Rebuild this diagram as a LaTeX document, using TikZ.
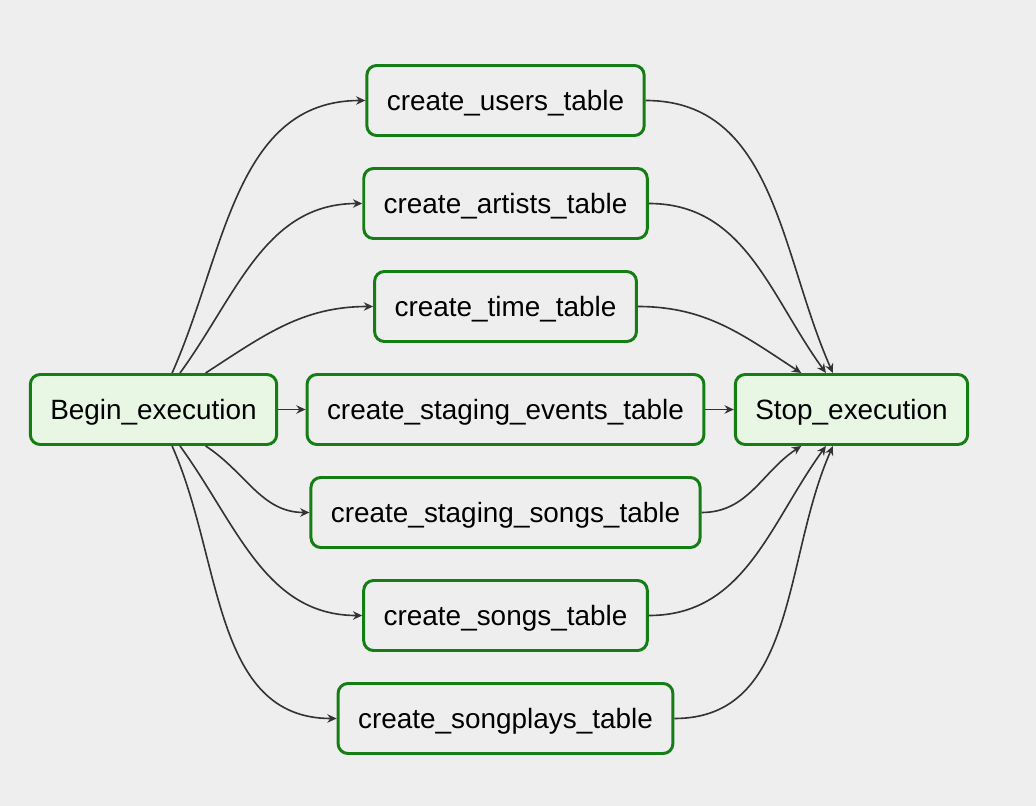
\documentclass[tikz,border=0pt]{standalone}
\usepackage{fontspec}
\setmainfont{Liberation Sans}
\usepackage{tikz}
\usetikzlibrary{arrows.meta,backgrounds}
\definecolor{canvas}{RGB}{238,238,238}
\definecolor{okgreen}{RGB}{20,125,20}
\definecolor{okfill}{RGB}{232,246,228}
\definecolor{wire}{RGB}{51,51,51}
\tikzstyle{task}     = [rectangle, rounded corners=7pt, draw=okgreen, line width=2.1pt, fill=canvas, minimum height=49.8pt, inner xsep=14.2pt, text height=14.2pt, text depth=0pt, font=\fontsize{19.85}{24}\selectfont]
\tikzstyle{endpoint} = [task, fill=okfill]
\tikzstyle{flow}     = [wire, line width=1.15pt, -{Stealth[length=6.6pt,width=6pt]}]

\begin{document}
\begin{tikzpicture}[x=0.025cm,y=-0.025cm]
        \fill[canvas] (0,0) rectangle (1036,806);
        \useasboundingbox (0,0) rectangle (1036,806);

        \node[endpoint] (begin) at (153.5,409.5) {Begin\_execution};
        \node[endpoint] (stop)  at (851.5,409.5) {Stop\_execution};

        \node[task] (users)    at (505.5,100.5) {create\_users\_table};
        \node[task] (artists)  at (505.5,203.5) {create\_artists\_table};
        \node[task] (time)     at (505.5,306.5) {create\_time\_table};
        \node[task] (events)   at (505.5,409.5) {create\_staging\_events\_table};
        \node[task] (ssongs)   at (505.5,512.5) {create\_staging\_songs\_table};
        \node[task] (songs)    at (505.5,615.5) {create\_songs\_table};
        \node[task] (plays)    at (505.5,718.5) {create\_songplays\_table};

        % fan out
        \draw[flow] (begin.63)  to[out=66,in=180]  (users.west);
        \draw[flow] (begin.54)  to[out=54,in=180]  (artists.west);
        \draw[flow] (begin.35)  to[out=33,in=180]  (time.west);
        \draw[flow] (begin.east) -- (events.west);
        \draw[flow] (begin.325) to[out=-33,in=180] (ssongs.west);
        \draw[flow] (begin.306) to[out=-54,in=180] (songs.west);
        \draw[flow] (begin.297) to[out=-66,in=180] (plays.west);

        % fan in
        \draw[flow] (users.east)   to[out=0,in=114]  (stop.117);
        \draw[flow] (artists.east) to[out=0,in=126]  (stop.125);
        \draw[flow] (time.east)    to[out=0,in=147]  (stop.144);
        \draw[flow] (events.east)  -- (stop.west);
        \draw[flow] (ssongs.east)  to[out=0,in=-147] (stop.216);
        \draw[flow] (songs.east)   to[out=0,in=-126] (stop.235);
        \draw[flow] (plays.east)   to[out=0,in=-114] (stop.243);
    \end{tikzpicture}
\end{document}
